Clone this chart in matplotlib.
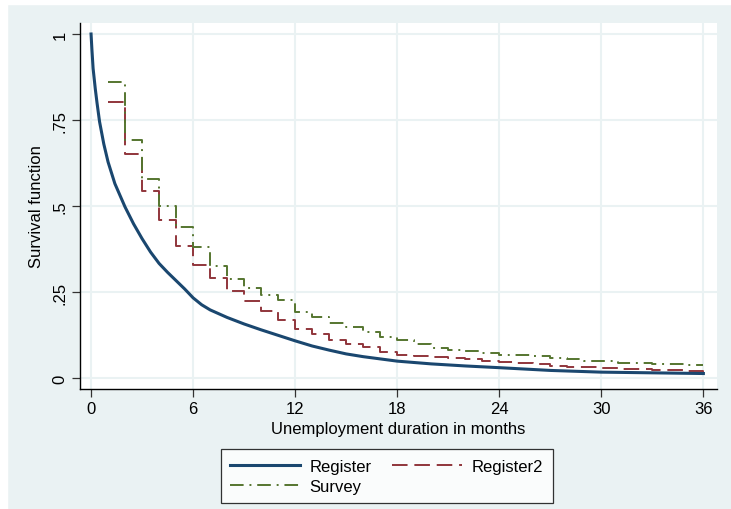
import numpy as np
import matplotlib.pyplot as plt
from matplotlib.patches import Rectangle

plt.rcParams['font.family'] = ['Liberation Sans', 'DejaVu Sans']

# Kaplan-Meier estimate from register data (fine-grained, drawn as a curve)
reg_t = [0, 0.05, 0.12, 0.25, 0.35, 0.5, 0.75, 1.0, 1.4, 2.0, 2.5, 3.0, 3.5,
         4.0, 4.5, 5.0, 5.5, 6.0, 6.5, 7.0, 8.0, 9.0, 10.0, 11.0, 12.0, 13.0,
         14.0, 15.0, 16.0, 18.0, 20.0, 22.0, 24.0, 27.0, 30.0, 33.0, 36.0]
reg_s = [1.0, 0.955, 0.90, 0.84, 0.80, 0.745, 0.68, 0.628, 0.565, 0.497, 0.448,
         0.405, 0.366, 0.333, 0.307, 0.283, 0.259, 0.233, 0.213, 0.198, 0.176,
         0.157, 0.140, 0.124, 0.108, 0.093, 0.081, 0.070, 0.062, 0.049, 0.041,
         0.035, 0.030, 0.022, 0.017, 0.015, 0.013]

# monthly estimates (register, aggregated) and survey
months = np.arange(1, 37)
reg2_s = [0.802, 0.651, 0.545, 0.460, 0.384, 0.328, 0.290, 0.254, 0.225, 0.196,
          0.170, 0.142, 0.128, 0.111, 0.099, 0.089, 0.077, 0.068, 0.065, 0.062,
          0.058, 0.055, 0.050, 0.046, 0.043, 0.040, 0.035, 0.033, 0.031, 0.029,
          0.027, 0.026, 0.024, 0.023, 0.021, 0.018]
survey_s = [0.860, 0.693, 0.578, 0.501, 0.440, 0.382, 0.325, 0.288, 0.261, 0.242,
            0.228, 0.193, 0.178, 0.160, 0.147, 0.133, 0.118, 0.111, 0.099, 0.087,
            0.081, 0.078, 0.072, 0.067, 0.066, 0.064, 0.058, 0.055, 0.050, 0.048,
            0.045, 0.043, 0.041, 0.040, 0.039, 0.038]

xticks = [0, 6, 12, 18, 24, 30, 36]
yticks = [0, 0.25, 0.5, 0.75, 1]
ytick_labels = ['0', '.25', '.5', '.75', '1']

bg = '#eaf2f3'
navy = '#1a476f'
maroon = '#90353b'
green = '#55752f'

fig = plt.figure(figsize=(7.31, 5.10), dpi=100, facecolor=bg)
# thin white margin at top and left
fig.patches.append(Rectangle((0, 1 - 5/510), 1, 5/510, transform=fig.transFigure,
                             color='white', zorder=-1))
fig.patches.append(Rectangle((0, 0), 7/731, 1, transform=fig.transFigure,
                             color='white', zorder=-1))

ax = fig.add_axes([80/731, 120/510, 637/731, 366/510])
ax.set_facecolor('white')

l1, = ax.plot(reg_t, reg_s, color=navy, lw=2.2, label='Register', zorder=4)
l2, = ax.plot(months, reg2_s, color=maroon, lw=1.4, drawstyle='steps-post',
              dashes=(8, 3.5), label='Register2', zorder=3)
l3, = ax.plot(months, survey_s, color=green, lw=1.4, drawstyle='steps-post',
              dashes=(7, 3, 1, 3), label='Survey', zorder=3)

ax.set_xlim(-0.65, 36.8)
ax.set_ylim(-0.032, 1.032)
ax.set_xticks(xticks)
ax.set_yticks(yticks)
ax.set_yticklabels(ytick_labels, rotation=90, va='center')
ax.tick_params(labelsize=12, length=6, width=0.9, color='#333333', pad=3)
ax.grid(True, color=bg, lw=1.5)
ax.set_axisbelow(True)
for s in ['top', 'right']:
    ax.spines[s].set_visible(False)
for s in ['left', 'bottom']:
    ax.spines[s].set_linewidth(1.0)

ax.set_xlabel('Unemployment duration in months', fontsize=12, labelpad=3)
ax.set_ylabel('Survival function', fontsize=12, labelpad=6)

# legend is filled column by column, so order the handles to read row-wise
leg = fig.legend([l1, l3, l2], ['Register', 'Survey', 'Register2'],
                 loc='center', bbox_to_anchor=(0.5288, 0.0647), ncol=2,
                 fontsize=12, handlelength=4.2, handletextpad=0.6,
                 columnspacing=1.2, frameon=True, fancybox=False,
                 edgecolor='black', borderpad=0.55, labelspacing=0.3)
leg.get_frame().set_linewidth(0.9)

fig.savefig('out.png', dpi=100, facecolor=bg)
